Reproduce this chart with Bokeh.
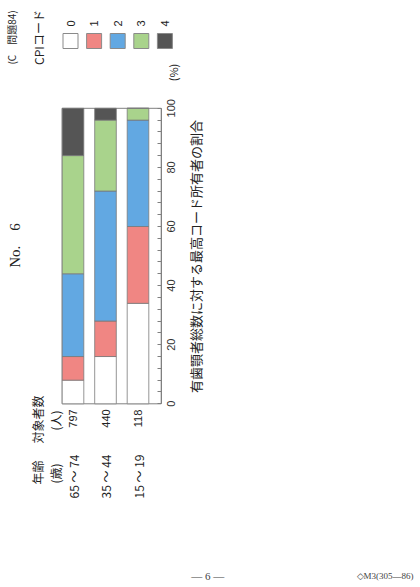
import math
from bokeh.plotting import figure
from bokeh.models import Range1d, FixedTicker, Label, BoxAnnotation, ColumnDataSource
from bokeh.embed import file_html
from bokeh.resources import INLINE

# ---- data ----
ages = ["65 ～ 74", "35 ～ 44", "15 ～ 19"]
counts = ["797", "440", "118"]
codes = ["0", "1", "2", "3", "4"]
code0 = [8, 16, 34]
code1 = [8, 12, 26]
code2 = [28, 44, 36]
code3 = [40, 24, 4]
code4 = [16, 4, 0]
colors = ["#FFFFFF", "#F08683", "#62A8E2", "#A9D38C", "#555555"]
ticks = [0, 20, 40, 60, 80, 100]
minor_step = 4

# ---- layout constants (pixels) ----
W, H = 420, 587
X0, PXX = 72.5, 32.5      # pixel x of first bar centre, px per category
V0, PXV = 403.3, 2.955    # pixel y of value 0, px per percent
AXIS_PX = 160.7
BAR_W = 0.665
JP = "Noto Sans CJK JP"
SANS = "Liberation Sans"
SERIF = "Liberation Serif"

p = figure(width=W, height=H, output_backend="svg", toolbar_location=None,
           x_range=Range1d(-X0 / PXX, (W - X0) / PXX),
           y_range=Range1d((V0 - H) / PXV, V0 / PXV),
           x_axis_location=None, y_axis_location="right", min_border=0)
p.grid.visible = False
p.outline_line_color = None
p.background_fill_color = "white"
p.border_fill_color = "white"

xs = list(range(len(ages)))
axis_x = (AXIS_PX - X0) / PXX

# plot box (0 and 100 lines)
p.quad(left=[xs[0] - BAR_W / 2], right=[axis_x], bottom=[ticks[0]], top=[ticks[-1]],
       fill_color=None, line_color="#808080", line_width=1)

src = ColumnDataSource(dict(x=xs, **{"0": code0, "1": code1, "2": code2, "3": code3, "4": code4}))
p.vbar_stack(codes, x="x", width=BAR_W, color=colors, source=src,
             line_color="#7a7a7a", line_width=0.8)

# value axis: ticks only (labels drawn rotated below)
ax = p.yaxis[0]
ax.fixed_location = axis_x
ax.bounds = (ticks[0], ticks[-1])
ax.ticker = FixedTicker(ticks=[], minor_ticks=list(range(ticks[0], ticks[-1] + 1, minor_step)))
ax.minor_tick_in = 4
ax.minor_tick_out = 0
ax.major_tick_in = 0
ax.major_tick_out = 0
ax.axis_line_color = "#808080"
ax.minor_tick_line_color = "#808080"


def lab(text, ix, iy, size, font=JP, angle=math.pi / 2, align="center", color="#222222"):
    p.add_layout(Label(x=ix, y=H - iy, x_units="screen", y_units="screen",
                       text=text, angle=angle, text_align=align, text_baseline="middle",
                       text_font=font, text_font_size=size, text_color=color))


# tick labels (rotated, centred on ticks)
for t in ticks:
    p.add_layout(Label(x=AXIS_PX + 10, y=t, x_units="screen", y_units="data", text=str(t),
                       angle=math.pi / 2, text_align="center", text_baseline="middle",
                       text_font=SANS, text_font_size="11px", text_color="#333333"))

# table beside bars
for i, (a, c) in enumerate(zip(ages, counts)):
    p.add_layout(Label(x=xs[i], y=H - 476, x_units="data", y_units="screen", text=a,
                       angle=math.pi / 2, text_align="center", text_baseline="middle",
                       text_font=JP, text_font_size="12px", text_color="#222222"))
    p.add_layout(Label(x=xs[i], y=H - 418, x_units="data", y_units="screen", text=c,
                       angle=math.pi / 2, text_align="center", text_baseline="middle",
                       text_font=SANS, text_font_size="11px", text_color="#222222"))

lab("年齢", 37, 472, "12px")
lab("(歳)", 55, 473, "12px")
lab("対象者数", 37, 419, "12px")
lab("(人)", 55, 420, "12px")

# axis title, unit
lab("有歯顎者総数に対する最高コード所有者の割合", 195, 256, "13px")
lab("(%)", 172, 72, "11px")

# legend
lab("CPIコード", 38, 37, "12px")
for i, (c, col) in enumerate(zip(codes, colors)):
    cx = 70 + 23.6 * i
    p.add_layout(BoxAnnotation(left=cx - 7.5, right=cx + 7.5, bottom=H - 48, top=H - 33,
                               left_units="screen", right_units="screen",
                               bottom_units="screen", top_units="screen",
                               fill_color=col, fill_alpha=1, line_color="#8a8a8a", line_alpha=1,
                               line_width=1))
    lab(c, cx, 23, "11px", font=SANS)

# page furniture
lab("(C　問題84)", 11, 37, "10px")
lab("No.　6", 14, 245, "15px", font=SERIF)
lab("—  6  —", 210, 575, "11px", font=SERIF, angle=0, color="#444444")
lab("◇M3(305—86)", 413, 575, "9px", font=SERIF, angle=0, align="right", color="#444444")

open("out.html", "w").write(file_html(p, INLINE))
